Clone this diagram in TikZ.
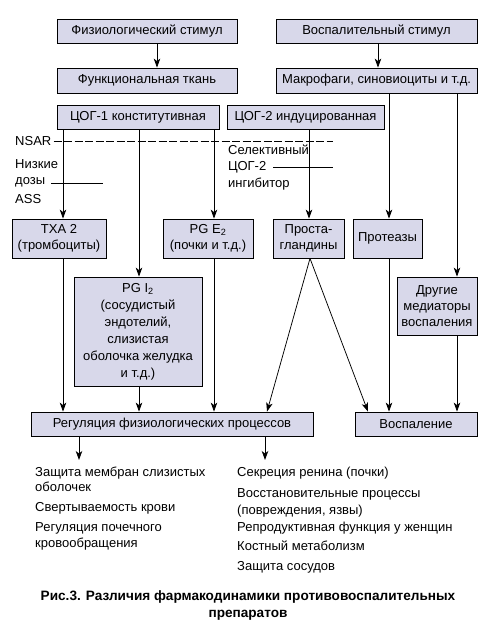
\documentclass[tikz,border=0pt]{standalone}
\usepackage{fontspec}
\setmainfont{Liberation Sans}
\usetikzlibrary{arrows.meta}
\definecolor{boxfill}{RGB}{216,216,234}
\begin{document}
\begin{tikzpicture}[x=1pt,y=-1pt,
  box/.style={draw=black, line width=0.8pt, fill=boxfill, inner sep=1pt, align=center,
    font=\fontsize{13}{16}\selectfont},
  arr/.style={-{Stealth[length=9pt,width=6.5pt,inset=2.5pt]}, line width=0.75pt},
  ln/.style={line width=0.75pt},
  dln/.style={line width=0.75pt, dash pattern=on 8pt off 2.5pt},
  lbl/.style={font=\fontsize{13}{16}\selectfont, inner sep=0pt, anchor=west},
  txt/.style={font=\fontsize{13}{16}\selectfont, inner sep=0pt, anchor=base west},
  capt/.style={font=\bfseries\fontsize{13.6}{16}\selectfont, inner sep=0pt, anchor=base}]
\useasboundingbox (0,0) rectangle (496,627);
% boxes
\node[box, minimum width=180pt, minimum height=24pt] (fs) at (147,31) {Физиологический стимул};
\node[box, minimum width=201pt, minimum height=24pt] (vs) at (376.5,31) {Воспалительный стимул};
\node[box, minimum width=180pt, minimum height=25pt] (ft) at (147,80.5) {Функциональная ткань};
\node[box, minimum width=201pt, minimum height=25pt] (mak) at (376.5,80.5) {Макрофаги, синовиоциты и т.д.};
\node[box, minimum width=162pt, minimum height=24pt] (cog1) at (138,117) {ЦОГ-1 конститутивная};
\node[box, minimum width=157pt, minimum height=24pt] (cog2) at (305.5,117) {ЦОГ-2 индуцированная};
\node[box, minimum width=94pt, minimum height=39pt] (txa) at (59,238.5) {TXA 2\\(тромбоциты)};
\node[box, minimum width=90pt, minimum height=39pt] (pge) at (208,238.5) {PG E\textsubscript{2}\\(почки и т.д.)};
\node[box, minimum width=71pt, minimum height=39pt] (pros) at (308.5,238.5) {Проста-\\гландины};
\node[box, minimum width=69pt, minimum height=39pt] (prot) at (387.5,238.5) {Протеазы};
\node[box, minimum width=128pt, minimum height=109pt, font=\fontsize{13}{17}\selectfont] (pgi) at (138,331.5) {PG I\textsubscript{2}\\(сосудистый\\эндотелий,\\слизистая\\оболочка желудка\\и т.д.)};
\node[box, minimum width=80pt, minimum height=58pt] (dm) at (437,306) {Другие\\медиаторы\\воспаления};
\node[box, minimum width=282pt, minimum height=24pt] (reg) at (172,424) {Регуляция физиологических процессов};
\node[box, minimum width=122pt, minimum height=24pt] (vosp) at (416,424) {Воспаление};
% inhibitor labels
\node[lbl] (nsar) at (15,141) {NSAR};
\node[lbl] (nz1) at (15,164) {Низкие};
\node[lbl] (nz2) at (15,182) {дозы};
\node[lbl] (nz3) at (15,199) {ASS};
\node[lbl] (sel1) at (228,150) {Селективный};
\node[lbl] (sel2) at (228,167) {ЦОГ-2};
\node[lbl] (sel3) at (228,184) {ингибитор};
\coordinate (nsarE) at (333,141);
\coordinate (asE) at (103,183);
\coordinate (selW) at (273,167);
\coordinate (selE) at (333,167);
% arrows top
\draw[arr] ([xshift=10pt]fs.south) -- ([xshift=10pt]ft.north);
\draw[arr] ([xshift=1.5pt]vs.south) -- ([xshift=1.5pt]mak.north);
\draw[arr] (cog1.south -| txa.north) ++(4pt,0) coordinate (a1) -- (a1 |- txa.north);
\draw[arr] (cog1.south -| 139,0) coordinate (a2) -- (a2 |- pgi.north);
\draw[arr] (cog1.south -| 214,0) coordinate (a3) -- (a3 |- pge.north);
\draw[arr] (cog2.south -| 309,0) coordinate (a4) -- (a4 |- pros.north);
\draw[arr] (mak.south -| 389,0) coordinate (a5) -- (a5 |- prot.north);
\draw[arr] (mak.south -| 457,0) coordinate (a6) -- (a6 |- dm.north);
% inhibitor lines
\draw[dln] (nsar.east) ++(2pt,0) -- (nsarE);
\draw[ln] (nz2.east |- asE) ++(6pt,0) -- (asE);
\draw[ln] (selW) -- (selE);
% to regulation
\draw[arr] (txa.south -| a1) -- (reg.north -| a1);
\draw[arr] (pgi.south -| a2) -- (reg.north -| a2);
\draw[arr] (pge.south -| a3) -- (reg.north -| a3);
\draw[arr] ([xshift=1.5pt]pros.south) -- (reg.north -| 267,0);
\draw[arr] ([xshift=1.5pt]pros.south) -- (vosp.north -| 368,0);
\draw[arr] (prot.south -| a5) -- (vosp.north -| a5);
\draw[arr] (dm.south -| a6) -- (vosp.north -| a6);
% bottom lists
\coordinate (lt) at (79,460);
\coordinate (rt) at (265,460);
\draw[arr] (reg.south -| lt) -- (lt);
\draw[arr] (reg.south -| rt) -- (rt);
\node[txt] (l1) at (35,476.5) {Защита мембран слизистых};
\node[txt] (l2) at (35,491.5) {оболочек};
\node[txt] (l3) at (35,511) {Свертываемость крови};
\node[txt] (l4) at (35,531) {Регуляция почечного};
\node[txt] (l5) at (35,547) {кровообращения};
\node[txt] (r1) at (237,476.5) {Секреция ренина (почки)};
\node[txt] (r2) at (237,497) {Восстановительные процессы};
\node[txt] (r3) at (237,514) {(повреждения, язвы)};
\node[txt] (r4) at (237,531.5) {Репродуктивная функция у женщин};
\node[txt] (r5) at (237,550.5) {Костный метаболизм};
\node[txt] (r6) at (237,570.5) {Защита сосудов};
\node[capt] (c1) at (248,600.5) {Рис.3. Различия фармакодинамики противовоспалительных};
\node[capt] (c2) at (248,617) {препаратов};
\end{tikzpicture}
\end{document}
